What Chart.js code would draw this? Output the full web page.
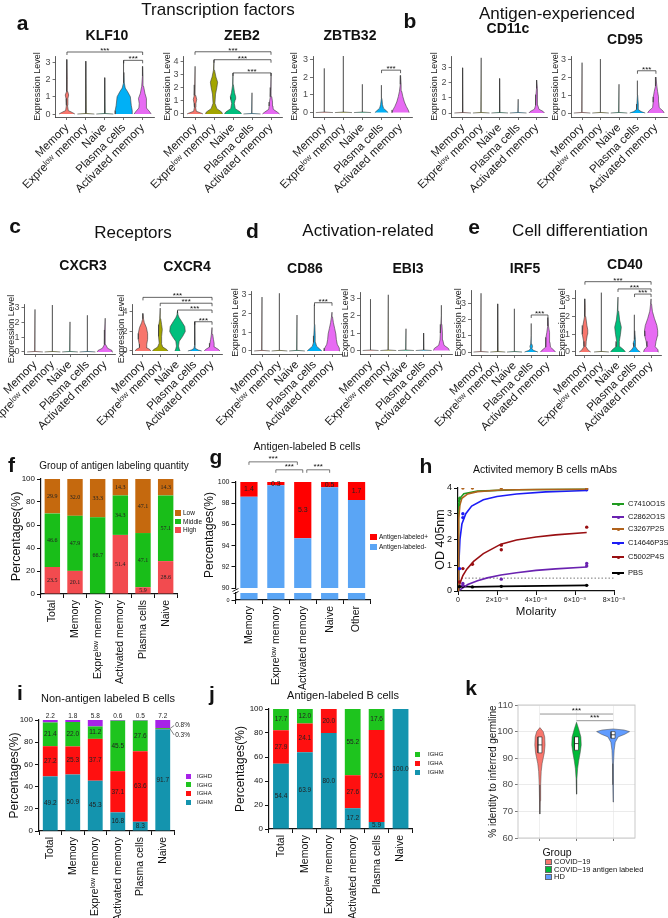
<!DOCTYPE html>
<html><head><meta charset="utf-8">
<script src="https://cdn.jsdelivr.net/npm/chart.js@4.4.1/dist/chart.umd.min.js"></script>
<style>
html,body{margin:0;padding:0;background:#fff;}
body{position:relative;width:668px;height:918px;overflow:hidden;font-family:"Liberation Sans",Arial,"DejaVu Sans",sans-serif;color:#111;}
canvas{position:absolute;}
.tx{position:absolute;white-space:nowrap;line-height:1;transform:translate(-50%,-50%);}
.tl{position:absolute;white-space:nowrap;line-height:1;transform:translate(0,-50%);}
.sq{position:absolute;box-sizing:border-box;}
</style></head><body>
<script>
// ================= DATA =================
const cellTypes = ['Memory', 'Expreˡᵒʷ memory', 'Naive', 'Plasma cells', 'Activated memory'];
const violinColors = ['#F8766D', '#A3A500', '#00BF7D', '#00B0F6', '#E76BF3'];
// a violin that is only a thin stem: flat base at 0, then a line up to its top value
const stem = top => [[0, 0.45], [0.03, 0.02], [top, 0]];

// each violin: list of [expression level, half width]
const KLF10 = [
  [[0,.42],[.08,.3],[.2,.07],[.5,.03],[.9,.05],[1.1,.09],[1.3,.04],[2,.015],[3.15,0]],
  stem(3.05), stem(2.1),
  [[0,.45],[.2,.45],[.5,.4],[1,.35],[1.3,.2],[1.5,.08],[1.8,.03],[2.4,.01],[3.1,0]],
  [[0,.45],[.12,.38],[.35,.2],[.6,.18],[.9,.22],[1.2,.12],[1.6,.05],[2.2,.02],[2.75,0]]
];
const KLF10_sig = [[1,5,3.58],[4,5,3.1]];
const ZEB2 = [
  [[0,.42],[.08,.3],[.2,.07],[.5,.03],[.8,.05],[1.1,.09],[1.4,.04],[2.2,.015],[3.6,0]],
  [[0,.45],[.15,.4],[.4,.15],[.8,.05],[1.5,.08],[2.0,.15],[2.4,.19],[2.8,.1],[3.3,.03],[4.1,0]],
  [[0,.45],[.15,.38],[.4,.12],[.8,.07],[1.1,.12],[1.3,.14],[1.6,.08],[2.2,.02],[3.1,0]],
  stem(1.6),
  [[0,.45],[.12,.35],[.35,.12],[.6,.1],[.9,.08],[1.3,.04],[2,.015],[3.1,0]]
];
const ZEB2_sig = [[1,5,4.7],[2,5,4.1],[3,5,3.1]];
const ZBTB32 = [
  stem(2.5), stem(3.2), stem(1.6),
  [[0,.35],[.1,.25],[.25,.1],[.45,.05],[.8,.02],[1.55,0]],
  [[0,.45],[.15,.4],[.35,.3],[.6,.2],[.9,.12],[1.2,.06],[1.6,.03],[2.1,0]]
];
const ZBTB32_sig = [[4,5,2.4]];
const CD11c = [
  stem(2.95), stem(3.6), stem(2.25), stem(0.9),
  [[0,.42],[.1,.35],[.25,.12],[.5,.06],[.9,.06],[1.2,.04],[1.6,.02],[2.15,0]]
];
const CD95 = [
  stem(2.8), stem(3.0), stem(1.6),
  [[0,.42],[.08,.2],[.2,.04],[.35,.06],[.5,.03],[1,.01],[1.8,0]],
  [[0,.45],[.12,.38],[.3,.18],[.6,.15],[.9,.14],[1.2,.09],[1.5,.05],[2.0,0]]
];
const CD95_sig = [[4,5,2.35]];
const CXCR3 = [
  stem(2.9), stem(3.2), stem(2.05), stem(2.5),
  [[0,.45],[.1,.4],[.25,.15],[.5,.04],[1,.03],[1.5,.02],[2.3,0]]
];
const CXCR4 = [
  [[0,.45],[.15,.4],[.35,.2],[.7,.22],[1.2,.27],[1.8,.27],[2.4,.2],[2.9,.08],[3.3,.03],[3.85,0]],
  [[0,.45],[.15,.38],[.4,.15],[.8,.06],[1.5,.08],[2.2,.12],[2.7,.08],[3.3,.03],[4.4,0]],
  [[0,.15],[.2,.1],[.5,.06],[1,.1],[1.5,.3],[2,.45],[2.5,.42],[3,.25],[3.4,.1],[3.7,.03],[4.1,0]],
  [[0,.4],[.1,.2],[.25,.05],[.6,.02],[3.0,0]],
  [[0,.45],[.15,.38],[.4,.15],[.8,.12],[1.2,.08],[1.7,.04],[2.4,0]]
];
const CXCR4_sig = [[1,5,5.5],[2,5,4.9],[3,5,4.2],[4,5,3.0]];
const CD86 = [
  stem(2.85), stem(3.05), stem(1.9),
  [[0,.42],[.1,.3],[.25,.12],[.45,.06],[.8,.04],[1.4,.02],[2.45,0]],
  [[0,.45],[.15,.42],[.35,.3],[.6,.25],[.9,.22],[1.2,.15],[1.5,.08],[1.8,.03],[2.05,0]]
];
const CD86_sig = [[4,5,2.55]];
const EBI3 = [
  stem(2.95), stem(3.2), stem(1.25), stem(1.0),
  [[0,.45],[.12,.4],[.3,.15],[.6,.08],[1,.06],[1.5,.03],[2,.015],[2.6,0]]
];
const IRF5 = [
  stem(3.6), stem(2.95), stem(2.65),
  [[0,.4],[.1,.15],[.2,.04],[.35,.08],[.5,.03],[1,.01],[1.75,0]],
  [[0,.45],[.12,.35],[.3,.15],[.6,.12],[.9,.12],[1.2,.07],[1.6,.03],[2.1,0]]
];
const IRF5_sig = [[4,5,2.27]];
const CD40 = [
  [[0,.35],[.1,.2],[.3,.06],[.6,.08],[1,.15],[1.25,.17],[1.5,.12],[2,.05],[2.5,.02],[3.0,0]],
  stem(3.35),
  [[0,.45],[.12,.35],[.3,.12],[.6,.08],[1,.15],[1.4,.2],[1.8,.1],[2.3,.04],[3.1,0]],
  [[0,.35],[.1,.2],[.3,.05],[.5,.08],[.7,.03],[1.2,.01],[2.1,0]],
  [[0,.45],[.12,.42],[.3,.25],[.6,.3],[.9,.38],[1.2,.4],[1.5,.35],[1.9,.2],[2.3,.08],[2.7,.03],[3.0,0]]
];
const CD40_sig = [[1,5,3.97],[3,5,3.56],[4,5,3.27]];

// f: group of antigen labeling quantity
const fCats = ['Total', 'Memory', 'Expreˡᵒʷ memory', 'Activated memory', 'Plasma cells', 'Naive'];
const fHigh = [23.5, 20.1, 0, 51.4, 5.9, 28.6];
const fMiddle = [46.6, 47.9, 66.7, 34.3, 47.1, 57.1];
const fLow = [29.9, 32.0, 33.3, 14.3, 47.1, 14.3];
const fNames = ['Low', 'Middle', 'High'];
const fColors = ['#C5690E', '#19BE19', '#F24B4F'];

// g: antigen-labeled B cells
const gCats = ['Memory', 'Expreˡᵒʷ memory', 'Activated memory', 'Naive', 'Other'];
const gPos = [1.4, 0.3, 5.3, 0.5, 1.7];
const gNeg = [98.6, 99.7, 94.7, 99.5, 98.3];
const gNames = ['Antigen-labeled+', 'Antigen-labeled-'];
const gColors = ['#FF0000', '#5AA5F5'];
const gSig = [[0, 1.8, 101.9], [1, 2, 101.15], [2.15, 3, 101.15]];

// h: activated memory B cell mAbs (molarity, OD 405nm)
const hNames = ['C7410O1S', 'C2862O1S', 'C3267P2S', 'C14646P3S', 'C5002P4S', 'PBS'];
const hColors = ['#1F9A1F', '#6A22B0', '#B0621C', '#1C1CF5', '#990F12', '#000000'];
const hTicks = [0, 2e-8, 4e-8, 6e-8, 8e-8];
const hCutoff = 0.5;
const hCurves = [
  [[0,0],[0.01e-8,2.5],[0.04e-8,3.3],[0.1e-8,3.6],[0.3e-8,3.78],[1e-8,3.88],[3e-8,3.93],[6.6e-8,3.95]],
  [[0,0],[0.25e-8,0.12],[0.5e-8,0.25],[1e-8,0.4],[1.5e-8,0.51],[2.2e-8,0.62],[3e-8,0.71],[4e-8,0.8],[5e-8,0.86],[6.6e-8,0.93]],
  [[0,0],[0.02e-8,1.6],[0.05e-8,2.8],[0.1e-8,3.35],[0.2e-8,3.6],[0.5e-8,3.77],[1e-8,3.86],[2.2e-8,3.92],[4e-8,3.94],[6.6e-8,3.95]],
  [[0,0],[0.04e-8,1],[0.1e-8,2],[0.2e-8,2.6],[0.4e-8,3.0],[0.7e-8,3.3],[1.3e-8,3.54],[2e-8,3.67],[3e-8,3.77],[4.5e-8,3.85],[6.6e-8,3.9]],
  [[0,0],[0.1e-8,0.3],[0.25e-8,0.6],[0.45e-8,0.85],[0.8e-8,1.15],[1.3e-8,1.45],[2.2e-8,1.82],[3e-8,1.98],[4e-8,2.1],[5e-8,2.18],[6.6e-8,2.27]],
  [[0.08e-8,0.17],[0.25e-8,0.18],[0.74e-8,0.16],[2.22e-8,0.18],[6.6e-8,0.22]]
];
const hPoints = [
  [[0.03e-8,3.35],[0.03e-8,3.5],[0.09e-8,3.6]],
  [[0.25e-8,0.29],[0.25e-8,0.22],[2.22e-8,0.46],[6.6e-8,0.97],[6.6e-8,1.07]],
  [[0.25e-8,4.0],[0.74e-8,4.0],[2.22e-8,4.0],[6.6e-8,3.98]],
  [[0.08e-8,0.87],[0.25e-8,2.85],[0.25e-8,3.0],[6.6e-8,3.93]],
  [[0.08e-8,0.35],[0.25e-8,0.87],[0.74e-8,1.04],[2.22e-8,1.6],[2.22e-8,1.78],[6.6e-8,2.48]],
  [[0.08e-8,0.17],[0.25e-8,0.18],[0.74e-8,0.16],[2.22e-8,0.18],[6.6e-8,0.22]]
];

// i: non-antigen labeled B cells
const iIGHM = [49.2, 50.9, 45.3, 16.8, 8.3, 91.7];
const iIGHA = [27.2, 25.3, 37.7, 37.1, 63.6, 0.3];
const iIGHG = [21.4, 22.0, 11.2, 45.5, 27.6, 0.8];
const iIGHD = [2.2, 1.8, 5.8, 0.6, 0.5, 7.2];
const igNames = ['IGHD', 'IGHG', 'IGHA', 'IGHM'];
const igColors = ['#A722E8', '#1EC41E', '#FF1010', '#1494AE'];

// j: antigen-labeled B cells
const jIGHM = [54.4, 63.9, 80.0, 17.2, 5.9, 100.0];
const jIGHA = [27.9, 24.1, 20.0, 27.6, 76.5, 0];
const jIGHG = [17.7, 12.0, 0, 55.2, 17.6, 0];

// k: % identity to inferred germline
const kGroups = ['COVID−19', 'COVID−19 antigen labeled', 'HD'];
const kColors = ['#F8766D', '#00BA38', '#619CFF'];
const kViolins = [
  [[69,0],[74,.008],[80,.02],[85,.035],[88,.06],[90,.09],[92,.12],[95,.14],[98,.13],[100,.09],[101.5,0]],
  [[76.5,0],[82,.01],[86,.03],[89,.06],[92,.1],[95,.13],[98,.12],[101,.06],[103.5,0]],
  [[73.5,0],[80,.008],[88,.015],[93,.03],[96,.06],[98,.14],[99,.32],[100,.45],[100.6,.3],[101,0]]
];
const kBoxes = [[92, 95, 98], [93, 95.5, 98], [97.5, 98.8, 100]]; // q1, median, q3
const kSig = [[1, 3, 106.6], [2, 3, 104.1]];

// ================= SETUP =================
const FONT = '"Liberation Sans", Arial, "DejaVu Sans", sans-serif';
Chart.defaults.font.family = FONT;
Chart.defaults.animation = false;
Chart.defaults.responsive = false;
Chart.defaults.maintainAspectRatio = false;
Chart.defaults.events = [];
Chart.defaults.plugins.legend.display = false;
Chart.defaults.plugins.tooltip.enabled = false;

function mkCanvas(left, top, w, h) {
  const c = document.createElement('canvas');
  c.width = Math.round(w); c.height = Math.round(h);
  c.style.left = left + 'px'; c.style.top = top + 'px';
  c.style.width = Math.round(w) + 'px'; c.style.height = Math.round(h) + 'px';
  document.body.appendChild(c);
  return c;
}
// rect = plot area in page px; ext = canvas extension [l,t,r,b]
function place(rect, ext, yW, xH) {
  const [x0, y0, x1, y1] = rect, [l, t, r, b] = ext;
  const left = Math.round(x0 - l), top = Math.round(y0 - t);
  const w = Math.round(x1 + r) - left, h = Math.round(y1 + b) - top;
  const cv = mkCanvas(left, top, w, h);
  return {cv, padding: {left: (x0 - left) - yW, top: y0 - top, right: (left + w) - x1, bottom: (top + h) - y1 - xH}};
}
const fixW = w => s => { s.width = w; s.paddingTop = 0; s.paddingBottom = 0; };
const fixH = h => s => { s.height = h; s.paddingLeft = 0; s.paddingRight = 0; };

const bracketPlugin = {
  id: 'brackets',
  afterDatasetsDraw(chart, args, o) {
    const {ctx, scales: {x, y}} = chart;
    ctx.save();
    (o.items || []).forEach(([a, b, v]) => {
      const xa = x.getPixelForValue(a), xb = x.getPixelForValue(b), yy = y.getPixelForValue(v);
      const tip = o.tip || 0;
      ctx.strokeStyle = o.color || '#222'; ctx.lineWidth = o.lw || 0.8;
      ctx.beginPath(); ctx.moveTo(xa, yy + tip); ctx.lineTo(xa, yy); ctx.lineTo(xb, yy); ctx.lineTo(xb, yy + tip); ctx.stroke();
      ctx.fillStyle = o.textColor || '#111'; ctx.font = (o.font || 8) + 'px ' + FONT;
      ctx.textAlign = 'center'; ctx.textBaseline = 'alphabetic';
      ctx.fillText('***', (xa + xb) / 2, yy + (o.dy || 1));
    });
    ctx.restore();
  }
};
const valsPlugin = {
  id: 'vals',
  afterDatasetsDraw(chart, args, o) {
    const ctx = chart.ctx;
    ctx.save();
    ctx.font = o.font; ctx.fillStyle = o.color || '#111'; ctx.textAlign = 'center'; ctx.textBaseline = 'middle';
    (o.sets || []).forEach(s => {
      const meta = chart.getDatasetMeta(s.ds), vals = chart.data.datasets[s.ds].data;
      meta.data.forEach((el, i) => {
        const v = vals[i];
        if (v == null || v < (s.min || 0.0001)) return;
        const y = s.pos === 'top' ? el.y - (s.dy || 4) : (el.y + el.base) / 2 + (s.dy || 0);
        ctx.fillText(v.toFixed(1), el.x, y);
      });
    });
    (o.callouts || []).forEach(c => {
      const el = chart.getDatasetMeta(c.ds).data[c.i];
      const x0 = el.x + el.width / 2, y0 = (el.y + el.base) / 2;
      ctx.strokeStyle = '#333'; ctx.lineWidth = 0.6;
      ctx.beginPath(); ctx.moveTo(x0, y0); ctx.lineTo(x0 + c.dx - 1, y0 + c.dy); ctx.stroke();
      ctx.textAlign = 'left';
      ctx.fillText(c.text, x0 + c.dx, y0 + c.dy);
    });
    ctx.restore();
  }
};
const framePlugin = {
  id: 'frame',
  afterDatasetsDraw(chart, args, o) {
    if (!o.color) return;
    const {ctx, chartArea: c} = chart;
    ctx.save(); ctx.strokeStyle = o.color; ctx.lineWidth = o.width || 1;
    ctx.strokeRect(c.left, c.top, c.right - c.left, c.bottom - c.top);
    ctx.restore();
  }
};
// axis-break marks drawn on the y axis just below the plot area
const breakPlugin = {
  id: 'axbreak',
  afterDraw(chart, args, o) {
    if (!o.on) return;
    const {ctx, chartArea: c} = chart;
    ctx.save(); ctx.strokeStyle = '#111'; ctx.lineWidth = 0.9;
    [2, 5].forEach(d => { ctx.beginPath(); ctx.moveTo(c.left - 3, c.bottom + d + 1.5); ctx.lineTo(c.left + 3, c.bottom + d - 1.5); ctx.stroke(); });
    ctx.restore();
  }
};

// ================= VIOLIN PANELS =================
function violinChart(rect, yW, yr, profiles, sig) {
  const p = place(rect, [90, 45, 12, 80], yW, 76);
  const datasets = profiles.map((prof, i) => ({
    data: prof.map(([y, w]) => ({x: i + 1 + w, y})).concat(prof.slice().reverse().map(([y, w]) => ({x: i + 1 - w, y}))),
    showLine: true, fill: 'shape', backgroundColor: violinColors[i], borderColor: '#3a3a3a', borderWidth: 0.6,
    borderJoinStyle: 'round', pointRadius: 0, tension: 0
  }));
  const ax = {display: true, drawOnChartArea: false, tickLength: 3, color: '#333', lineWidth: 0.7};
  new Chart(p.cv, {
    type: 'scatter',
    data: {datasets},
    options: {
      layout: {padding: p.padding},
      scales: {
        x: {type: 'linear', min: 0.4, max: 5.6, afterFit: fixH(76),
          afterBuildTicks: s => { s.ticks = [1, 2, 3, 4, 5].map(v => ({value: v})); },
          ticks: {autoSkip: false, minRotation: 45, maxRotation: 45, padding: 1, color: '#1a1a1a', font: {size: 11.5},
            callback: v => cellTypes[Math.round(v) - 1]},
          grid: ax, border: {display: true, color: '#333', width: 0.8}},
        y: {min: yr[0], max: yr[1], afterFit: fixW(yW),
          ticks: {stepSize: 1, includeBounds: false, padding: 2, color: '#4d4d4d', font: {size: 9}},
          title: {display: true, text: 'Expression Level', color: '#1a1a1a', font: {size: 9}, padding: 0},
          grid: ax, border: {display: true, color: '#333', width: 0.8}}
      },
      plugins: {brackets: {items: sig || [], tip: 3, color: '#222', font: 8, lw: 0.7}}
    },
    plugins: [bracketPlugin]
  });
}
violinChart([55.6, 56, 154, 117], 23, [-0.17, 3.35], KLF10, KLF10_sig);
violinChart([183.6, 56, 282.4, 117], 21, [-0.23, 4.38], ZEB2, ZEB2_sig);
violinChart([313, 56, 412, 117], 24, [-0.25, 3.2], ZBTB32, ZBTB32_sig);
violinChart([451.6, 56, 547.8, 117], 22, [-0.26, 3.72], CD11c, []);
violinChart([571, 56, 667, 117], 21, [-0.22, 3.17], CD95, CD95_sig);
violinChart([24.5, 304, 115.5, 354], 18, [-0.14, 3.27], CXCR3, []);
violinChart([132.6, 304, 222.4, 354], 16, [-0.31, 4.82], CXCR4, CXCR4_sig);
violinChart([251.5, 291, 342.5, 354], 21, [-0.16, 3.17], CD86, CD86_sig);
violinChart([360, 292, 452, 354], 20, [-0.2, 3.36], EBI3, []);
violinChart([471, 290, 558, 355], 18, [-0.18, 3.8], IRF5, IRF5_sig);
violinChart([575, 290, 661, 355], 18, [-0.17, 3.5], CD40, CD40_sig);

// ================= GRAPHPAD STYLE AXES =================
const gpGrid = {display: true, drawOnChartArea: false, tickLength: 4, color: '#111', lineWidth: 1};
const gpBorder = {display: true, color: '#111', width: 1.2};
function gpX(xH, size) {
  return {stacked: true, afterFit: fixH(xH), grid: gpGrid, border: gpBorder,
    ticks: {autoSkip: false, minRotation: 90, maxRotation: 90, padding: 2, color: '#111', font: {size}}};
}
function gpY(yW, min, max, step, size, title, tsize) {
  return {stacked: true, min, max, afterFit: fixW(yW), grid: gpGrid, border: gpBorder,
    ticks: {stepSize: step, padding: 2, color: '#111', font: {size}},
    title: {display: !!title, text: title, color: '#111', font: {size: tsize}, padding: 0}};
}
const barDs = (label, data, color, bp) => ({label, data, backgroundColor: color, borderWidth: 0, categoryPercentage: 1, barPercentage: bp});

// ---- f ----
(() => {
  const p = place([41, 479, 177, 594], [45, 5, 8, 100], 32, 95);
  new Chart(p.cv, {
    type: 'bar',
    data: {labels: fCats, datasets: [barDs('High', fHigh, fColors[2], 0.68), barDs('Middle', fMiddle, fColors[1], 0.68), barDs('Low', fLow, fColors[0], 0.68)]},
    options: {layout: {padding: p.padding},
      scales: {x: gpX(95, 10.5), y: gpY(32, 0, 100, 20, 8, 'Percentages(%)', 12.5)},
      plugins: {vals: {font: '6px "Liberation Serif", serif', color: '#222', sets: [{ds: 0, min: 1}, {ds: 1, min: 1}, {ds: 2, min: 1}]}}},
    plugins: [valsPlugin]
  });
})();

// ---- g (main 90-100 + lower 0-10 segment) ----
(() => {
  const p = place([235.5, 482, 370, 588], [45, 40, 8, 6], 33, 0);
  const x = {display: false, stacked: true};
  new Chart(p.cv, {
    type: 'bar',
    data: {labels: gCats, datasets: [barDs(gNames[1], gNeg, gColors[1], 0.64), barDs(gNames[0], gPos, gColors[0], 0.64)]},
    options: {layout: {padding: p.padding},
      scales: {x, y: gpY(33, 90, 100, 2, 7, 'Percentages(%)', 12)},
      plugins: {vals: {font: '7px ' + FONT, color: '#222', sets: [{ds: 1}]},
        brackets: {items: gSig, tip: 3, color: '#555', font: 8, lw: 0.8, dy: -1},
        axbreak: {on: true}}},
    plugins: [valsPlugin, bracketPlugin, breakPlugin]
  });
  const q = place([235.5, 593, 370, 600], [45, 3, 8, 95], 33, 90);
  new Chart(q.cv, {
    type: 'bar',
    data: {labels: gCats, datasets: [barDs(gNames[1], gNeg, gColors[1], 0.64)]},
    options: {layout: {padding: q.padding},
      scales: {x: gpX(90, 10.5), y: gpY(33, 0, 10, 10, 5.5, '', 1)}},
  });
})();

// ---- h ----
(() => {
  const p = place([458, 488, 614, 591], [40, 10, 24, 30], 25, 28);
  const ds = [];
  // draw order: lower order on top
  const top = [2, 0, 3, 4, 1, 5];
  hCurves.forEach((c, i) => ds.push({data: c.map(([x, y]) => ({x, y})), showLine: true, pointRadius: 0,
    borderColor: hColors[i], borderWidth: 1.6, order: 10 + top.indexOf(i)}));
  hPoints.forEach((c, i) => ds.push({data: c.map(([x, y]) => ({x, y})), showLine: false, pointRadius: 1.7,
    pointBackgroundColor: hColors[i], pointBorderWidth: 0, order: 1}));
  ds.push({data: [{x: hTicks[0], y: hCutoff}, {x: hTicks[hTicks.length - 1], y: hCutoff}], showLine: true, pointRadius: 0,
    borderColor: '#555', borderWidth: 0.8, borderDash: [1.5, 2], order: 30});
  new Chart(p.cv, {
    type: 'scatter', data: {datasets: ds},
    options: {layout: {padding: p.padding},
      scales: {
        x: {type: 'linear', min: 0, max: 8e-8, afterFit: fixH(28), grid: gpGrid, border: gpBorder,
          afterBuildTicks: s => { s.ticks = hTicks.map(v => ({value: v})); },
          ticks: {minRotation: 0, maxRotation: 0, padding: 1, color: '#111', font: {size: 7},
            callback: v => v === 0 ? '0' : Math.round(v * 1e8) + '×10⁻⁸'},
          title: {display: true, text: 'Molarity', color: '#111', font: {size: 11.5}, padding: {top: 2, bottom: 0}}},
        y: {min: 0, max: 4, afterFit: fixW(25), grid: gpGrid, border: gpBorder,
          ticks: {stepSize: 1, padding: 2, color: '#111', font: {size: 9}},
          title: {display: true, text: 'OD 405nm', color: '#111', font: {size: 12.5}, padding: 0}}
      }}
  });
})();

// ---- i ----
(() => {
  const p = place([39, 720, 174, 831], [45, 15, 30, 92], 32, 87);
  new Chart(p.cv, {
    type: 'bar',
    data: {labels: fCats, datasets: [barDs('IGHM', iIGHM, igColors[3], 0.66), barDs('IGHA', iIGHA, igColors[2], 0.66),
      barDs('IGHG', iIGHG, igColors[1], 0.66), barDs('IGHD', iIGHD, igColors[0], 0.66)]},
    options: {layout: {padding: p.padding},
      scales: {x: gpX(87, 10.5), y: gpY(32, 0, 100, 20, 8, 'Percentages(%)', 12)},
      plugins: {vals: {font: '6.5px ' + FONT, color: '#222',
        sets: [{ds: 0, min: 1}, {ds: 1, min: 1}, {ds: 2, min: 1}, {ds: 3, pos: 'top', dy: 4}],
        callouts: [{ds: 2, i: 5, dx: 5, dy: -3, text: iIGHG[5].toFixed(1) + '%'}, {ds: 1, i: 5, dx: 5, dy: 6, text: iIGHA[5].toFixed(1) + '%'}]}}},
    plugins: [valsPlugin]
  });
})();

// ---- j ----
(() => {
  const p = place([269, 709, 412.5, 829], [45, 5, 5, 92], 36, 90);
  new Chart(p.cv, {
    type: 'bar',
    data: {labels: fCats, datasets: [barDs('IGHM', jIGHM, igColors[3], 0.66), barDs('IGHA', jIGHA, igColors[2], 0.66),
      barDs('IGHG', jIGHG, igColors[1], 0.66)]},
    options: {layout: {padding: p.padding},
      scales: {x: gpX(90, 10.5), y: gpY(36, 0, 100, 20, 8, 'Percentages(%)', 12)},
      plugins: {vals: {font: '6.5px ' + FONT, color: '#222', sets: [{ds: 0, min: 1}, {ds: 1, min: 1}, {ds: 2, min: 1}]}}},
    plugins: [valsPlugin]
  });
})();

// ---- k ----
(() => {
  const p = place([518, 705, 635, 838], [40, 8, 6, 10], 31, 6);
  const ds = [];
  kViolins.forEach((prof, i) => ds.push({
    data: prof.map(([y, w]) => ({x: i + 1 + w, y})).concat(prof.slice().reverse().map(([y, w]) => ({x: i + 1 - w, y}))),
    showLine: true, fill: 'shape', backgroundColor: kColors[i], borderColor: '#444', borderWidth: 0.5, pointRadius: 0, order: 3}));
  kBoxes.forEach(([q1, md, q3], i) => {
    const c = i + 1, hw = 0.055;
    ds.push({data: [{x: c - hw, y: q1}, {x: c + hw, y: q1}, {x: c + hw, y: q3}, {x: c - hw, y: q3}, {x: c - hw, y: q1}],
      showLine: true, fill: 'shape', backgroundColor: '#ffffff', borderColor: '#222', borderWidth: 0.6, pointRadius: 0, order: 2});
    ds.push({data: [{x: c - hw, y: md}, {x: c + hw, y: md}], showLine: true, borderColor: '#222', borderWidth: 0.8, pointRadius: 0, order: 1});
  });
  new Chart(p.cv, {
    type: 'scatter', data: {datasets: ds},
    options: {layout: {padding: p.padding},
      scales: {
        x: {type: 'linear', min: 0.4, max: 3.6, afterFit: fixH(6),
          afterBuildTicks: s => { s.ticks = [1, 2, 3].map(v => ({value: v})); },
          ticks: {callback: () => '', padding: 0},
          grid: {color: '#EBEBEB', lineWidth: 0.8, tickLength: 3, tickColor: '#555'}, border: {display: false}},
        y: {min: 60, max: 110, afterFit: fixW(31),
          ticks: {stepSize: 5, padding: 2, color: '#4d4d4d', font: {size: 9.5}, callback: v => v % 10 === 0 ? v : ''},
          grid: {color: c => (c.tick && c.tick.value % 10 === 0) ? '#E6E6E6' : '#F3F3F3', lineWidth: 0.8, tickLength: 3,
            tickColor: c => (c.tick && c.tick.value % 10 === 0) ? '#555' : 'rgba(0,0,0,0)'},
          border: {display: false},
          title: {display: true, text: '% identity to inferred germline', color: '#111', font: {size: 10}, padding: 0}}
      },
      plugins: {frame: {color: '#C4C4C4', width: 0.9},
        brackets: {items: kSig, tip: 0, color: '#8a8a8a', lw: 0.9, font: 8, dy: -1}}},
    plugins: [framePlugin, bracketPlugin]
  });
})();

// ================= TEXT & LEGENDS =================
function txt(x, y, s, css) { const d = document.createElement('div'); d.className = 'tx'; d.textContent = s;
  d.style.left = x + 'px'; d.style.top = y + 'px'; d.style.cssText += css || ''; document.body.appendChild(d); return d; }
function txtL(x, y, s, css) { const d = document.createElement('div'); d.className = 'tl'; d.textContent = s;
  d.style.left = x + 'px'; d.style.top = y + 'px'; d.style.cssText += css || ''; document.body.appendChild(d); return d; }
function box(x, y, w, h, bg, bd) { const d = document.createElement('div'); d.className = 'sq';
  d.style.cssText += `left:${x}px;top:${y - h / 2}px;width:${w}px;height:${h}px;background:${bg};` + (bd ? `border:0.6px solid ${bd};` : '');
  document.body.appendChild(d); return d; }

[[218, 9, 'Transcription factors'], [557, 13, 'Antigen-experienced'], [133, 232, 'Receptors'],
 [368, 230, 'Activation-related'], [580, 230, 'Cell differentiation']]
  .forEach(([x, y, s]) => txt(x, y, s, 'font-size:17px;'));
[['a', 22.5, 22], ['b', 410, 20], ['c', 15, 224.5], ['d', 252.5, 229.5], ['e', 474, 225.5], ['f', 11.5, 464],
 ['g', 216, 456], ['h', 426, 465], ['i', 20, 692], ['j', 212, 693], ['k', 471, 687]]
  .forEach(([s, x, y]) => txt(x, y, s, 'font-size:21px;font-weight:bold;'));
[[107, 35, 'KLF10'], [242, 35, 'ZEB2'], [350, 35, 'ZBTB32'], [508, 28, 'CD11c'], [625, 39, 'CD95'],
 [83, 265, 'CXCR3'], [187, 266, 'CXCR4'], [305, 268, 'CD86'], [408, 268, 'EBI3'], [525, 268, 'IRF5'], [625, 264, 'CD40']]
  .forEach(([x, y, s]) => txt(x, y, s, 'font-size:14px;font-weight:bold;'));
txt(114, 466, 'Group of antigen labeling quantity', 'font-size:10px;');
txt(307, 446, 'Antigen-labeled B cells', 'font-size:10.5px;');
txt(545, 469, 'Activited memory B cells mAbs', 'font-size:10.5px;');
txt(108, 698, 'Non-antigen labeled B cells', 'font-size:11px;');
txt(343, 695, 'Antigen-labeled B cells', 'font-size:11px;');

// f legend
fNames.forEach((n, i) => { const y = 513 + i * 8.5; box(175, y, 5.5, 5.5, fColors[i]); txtL(183, y, n, 'font-size:6.5px;'); });
// g legend
gNames.forEach((n, i) => { const y = 537 + i * 10; box(370, y, 6.5, 6, gColors[i]); txtL(379, y, n, 'font-size:6.5px;'); });
// h legend
[504, 517, 529, 543, 557, 573].forEach((y, i) => {
  box(612, y, 12, 1.6, hColors[i]); box(616.5, y, 3, 3, hColors[i]).style.borderRadius = '50%';
  txtL(628, y, hNames[i], 'font-size:7.5px;');
});
// i legend
igNames.forEach((n, i) => { const y = 776 + i * 8.7; box(186, y, 5, 5, igColors[i]); txtL(197, y, n, 'font-size:6px;'); });
// j legend
igNames.slice(1).forEach((n, i) => { const y = 754 + i * 9; box(415, y, 5, 5, igColors[i + 1]); txtL(428, y, n, 'font-size:6px;'); });
// k legend
txt(557, 852, 'Group', 'font-size:10.5px;');
kGroups.forEach((n, i) => { const y = 862 + i * 7.5; box(545, y, 6.5, 6.5, kColors[i], '#666'); txtL(554, y, n, 'font-size:7.5px;'); });
</script>
</body></html>
